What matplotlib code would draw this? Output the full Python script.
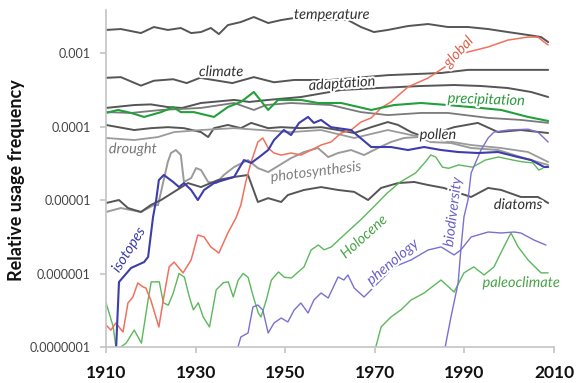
import matplotlib
matplotlib.use("Agg")
import matplotlib.pyplot as plt
import matplotlib.patheffects as pe
from matplotlib.ticker import FixedLocator, NullLocator

# ---------------- data (relative usage frequency) ----------------
temperature_years = [1910, 1913.3, 1917.8, 1920.7, 1923.8, 1926.7, 1929, 1931.2, 1933.4, 1935.2, 1937.2,
                     1940.1, 1943, 1946.2, 1949.1, 1952, 1958, 1964, 1966.9, 1969.8, 1972.9, 1977.4,
                     1981.9, 1986.3, 1990.8, 1995.3, 1999.7, 2004.2, 2007.1, 2008.7]
temperature_vals = [2.06e-3, 2.12e-3, 1.87e-3, 2.26e-3, 2.06e-3, 2.19e-3, 1.87e-3, 1.93e-3, 2.19e-3, 1.81e-3,
                    2.40e-3, 2.64e-3, 3.09e-3, 2.56e-3, 2.81e-3, 3.0e-3, 2.81e-3, 2.81e-3, 2.26e-3, 1.93e-3,
                    2.06e-3, 2.33e-3, 2.48e-3, 2.26e-3, 2.26e-3, 2.12e-3, 1.93e-3, 1.76e-3, 1.65e-3, 1.41e-3]

global_years = [1910, 1911.1, 1912.2, 1913.8, 1914.9, 1916, 1917.1, 1918.3, 1918.9, 1920, 1921.8, 1922.9,
                1924.1, 1925.2, 1927.2, 1929, 1930.5, 1931.9, 1933.4, 1935.2, 1937.2, 1939, 1940.1, 1941.2,
                1942.4, 1943.9, 1945, 1946.2, 1947.5, 1949.1, 1951.3, 1953.5, 1955.8, 1958, 1960.2, 1962.5,
                1964.7, 1966.9, 1969.2, 1971.4, 1973.6, 1977.4, 1981.9, 1986.3, 1989.9, 1995.3, 1999.7,
                2004.2, 2006.4, 2007.8, 2008.7]
global_vals = [1.99e-7, 1.70e-7, 2.12e-7, 1.6e-7, 3.97e-7, 4.79e-7, 7.43e-7, 6.55e-7, 6.35e-7, 4.36e-7, 1.87e-7,
               4.79e-7, 1.23e-6, 1.43e-6, 1.02e-6, 1.53e-6, 3.34e-6, 3.14e-6, 2.3e-6, 1.9e-6, 3.56e-6, 5.69e-6,
               8.55e-6, 1.76e-5, 3.29e-5, 6.15e-5, 6.98e-5, 5.1e-5, 4.36e-5, 4.09e-5, 4.36e-5, 4.09e-5, 4.79e-5,
               5.6e-5, 6.15e-5, 8.16e-5, 8.96e-5, 1.15e-4, 1.31e-4, 1.79e-4, 2.16e-4, 3.45e-4, 4.57e-4, 6.87e-4,
               1.0e-3, 1.21e-3, 1.5e-3, 1.65e-3, 1.65e-3, 1.41e-3, 1.29e-3]

climate_years = [1910, 1913.3, 1917.8, 1920.7, 1925, 1928, 1931, 1938.2, 1943, 1947.5, 1952, 1960, 1972.9,
                 1984.8, 1990.8, 1998, 2008.7]
climate_vals = [4.6e-4, 4.7e-4, 3.6e-4, 4.2e-4, 4.4e-4, 3.9e-4, 4.6e-4, 3.9e-4, 4.7e-4, 4.0e-4, 4.3e-4, 4.3e-4,
                5.0e-4, 5.35e-4, 5.9e-4, 5.9e-4, 5.9e-4]

adaptation_years = [1910, 1916.3, 1920, 1923.8, 1927, 1931.2, 1938.6, 1942, 1946.2, 1953.5, 1962.5, 1970.7,
                    1980.3, 1987.7, 1993.7, 1999.7, 2004.9, 2008.7]
adaptation_vals = [1.79e-4, 1.96e-4, 2.0e-4, 1.84e-4, 1.79e-4, 2.09e-4, 2.30e-4, 2.16e-4, 2.3e-4, 2.52e-4,
                   3.14e-4, 3.34e-4, 3.56e-4, 3.67e-4, 3.56e-4, 3.34e-4, 2.95e-4, 2.52e-4]

other_years = [1910, 1915.6, 1922.3, 1931.2, 1938.6, 1943, 1945.7, 1951.3, 1960.2, 1966.9, 1972.9, 1980.3,
               1986.3, 1995.3, 2002.6, 2008.7]
other_vals = [1.57e-4, 1.53e-4, 1.68e-4, 1.79e-4, 2.09e-4, 1.68e-4, 1.96e-4, 2.09e-4, 1.96e-4, 1.57e-4,
              1.43e-4, 1.53e-4, 1.53e-4, 1.31e-4, 1.23e-4, 1.12e-4]

precipitation_years = [1910, 1912.7, 1915.6, 1918.5, 1922.3, 1925, 1926.7, 1929.6, 1934.1, 1937.2, 1940.1,
                       1943, 1946.2, 1948.4, 1953.5, 1957.3, 1962.5, 1969.2, 1974.3, 1980.3, 1986.3, 1991.5,
                       1998.2, 2004.2, 2008.7]
precipitation_vals = [1.53e-4, 1.68e-4, 1.53e-4, 1.35e-4, 1.57e-4, 1.84e-4, 1.57e-4, 1.57e-4, 1.35e-4, 1.84e-4,
                      2.16e-4, 2.95e-4, 1.68e-4, 2.30e-4, 2.30e-4, 2.09e-4, 2.09e-4, 1.68e-4, 1.96e-4, 2.09e-4,
                      1.96e-4, 1.84e-4, 1.68e-4, 1.35e-4, 1.19e-4]

pollen_years = [1910, 1916.3, 1920, 1923.8, 1927.4, 1931.2, 1932.8, 1934.1, 1937.2, 1940.1, 1942.4, 1946.2,
                1949.1, 1953.5, 1958, 1961.8, 1965.4, 1969.2, 1972.9, 1975.2, 1978.1, 1981, 1987.7, 1993,
                1997.5, 2002.6, 2008.7]
pollen_vals = [1.05e-4, 8.96e-5, 9.5e-5, 9.8e-5, 9.5e-5, 8.4e-5, 7.19e-5, 9.5e-5, 1.05e-4, 9.5e-5, 1.12e-4,
               9.5e-5, 9.8e-5, 9.5e-5, 9.8e-5, 8.96e-5, 8.16e-5, 9.8e-5, 1.15e-4, 1.05e-4, 8.4e-5, 7.19e-5,
               9.8e-5, 1.12e-4, 8.4e-5, 8.96e-5, 8.16e-5]

drought_years = [1910, 1916.3, 1921.6, 1925.2, 1931.2, 1938.6, 1944.6, 1951.3, 1958, 1965.4, 1972.9, 1978.1,
                 1984.8, 1991.5, 1998.2, 2004.2, 2008.7]
drought_vals = [6.98e-5, 6.55e-5, 7.19e-5, 8.4e-5, 8.96e-5, 9.5e-5, 8.96e-5, 8.4e-5, 8.96e-5, 6.98e-5, 8.96e-5,
                7.66e-5, 6.55e-5, 5.6e-5, 5.1e-5, 4.5e-5, 3.29e-5]

photosynthesis_years = [1910, 1913.3, 1917.8, 1920.7, 1921.6, 1923.8, 1924.5, 1925.6, 1926.7, 1927.4, 1929,
                        1930.1, 1931.2, 1932.8, 1934.6, 1936.3, 1938.6, 1941.7, 1943.9, 1946.2, 1951.3, 1954.2,
                        1957.3, 1959.6, 1961.8, 1964.7, 1967.6, 1970.7, 1973.6, 1976.5, 1979.6, 1982.5, 1987,
                        1991.5, 1997.5, 2002.6, 2008.7]
photosynthesis_vals = [6.87e-6, 7.78e-6, 6.87e-6, 8.55e-6, 8.5e-6, 3.29e-5, 4.36e-5, 4.79e-5, 4.09e-5, 1.76e-5,
                       1.99e-5, 2.72e-5, 2.56e-5, 1.76e-5, 1.70e-5, 2.19e-5, 2.81e-5, 3.5e-5, 2.72e-5, 2.4e-5,
                       3.72e-5, 4.5e-5, 5.1e-5, 3.84e-5, 4.36e-5, 4.79e-5, 4.09e-5, 5.1e-5, 6.15e-5, 6.98e-5,
                       7.19e-5, 6.15e-5, 5.97e-5, 5.1e-5, 4.79e-5, 3.84e-5, 2.99e-5]

diatoms_years = [1910, 1912.9, 1914.9, 1917.8, 1920, 1922.3, 1928.3, 1931.2, 1935, 1938.6, 1941.7, 1943.9,
                 1946.2, 1949.1, 1950.6, 1954.2, 1958, 1961.8, 1965.4, 1968.5, 1971.4, 1975.2, 1978.8, 1981.9,
                 1985.4, 1991.5, 1995.3, 1998.2, 2002.6, 2006.4, 2008.7]
diatoms_vals = [9.1e-6, 1.0e-5, 7.78e-6, 6.87e-6, 8.55e-6, 1.0e-5, 1.70e-5, 1.5e-5, 1.87e-5, 2.06e-5, 2.19e-5,
                9.4e-6, 1.06e-5, 9.4e-6, 1.17e-5, 1.37e-5, 1.5e-5, 1.37e-5, 1.29e-5, 1.0e-5, 1.46e-5, 1.70e-5,
                1.76e-5, 1.6e-5, 1.46e-5, 1.1e-5, 1.46e-5, 1.37e-5, 1.1e-5, 1.1e-5, 9.1e-6]

isotopes_years = [1912.2, 1912.9, 1915.6, 1917.1, 1918.5, 1919.4, 1920.5, 1921.2, 1921.8, 1922.9, 1925, 1926.3,
                  1927.4, 1929, 1930.5, 1931.9, 1934.1, 1936.3, 1938.6, 1940.8, 1942.4, 1944.2, 1946.2, 1947.5,
                  1949.7, 1951.3, 1953.1, 1955.1, 1956.4, 1958, 1960.2, 1964.7, 1969.2, 1973.6, 1977.4, 1981,
                  1984.8, 1988.6, 1993, 1997.5, 2002, 2004.9, 2007.8, 2008.7]
isotopes_vals = [8e-8, 7.66e-7, 1.19e-6, 1.31e-6, 1.43e-6, 1.68e-6, 5.87e-6, 1.0e-5, 1.87e-5, 2.19e-5, 1.76e-5,
                 1.5e-5, 1.70e-5, 1.37e-5, 1.0e-5, 1.37e-5, 1.70e-5, 1.87e-5, 2.06e-5, 3.5e-5, 3.19e-5, 3.84e-5,
                 4.79e-5, 6.55e-5, 8.96e-5, 7.66e-5, 1.12e-4, 1.35e-4, 1.12e-4, 1.23e-4, 9.8e-5, 8.96e-5,
                 5.26e-5, 5.26e-5, 4.79e-5, 5.26e-5, 4.79e-5, 4.5e-5, 4.36e-5, 4.5e-5, 3.84e-5, 3.5e-5, 2.81e-5,
                 2.81e-5]

holocene_years = [1910, 1911.6, 1912.3, 1914.5, 1916.3, 1917.9, 1919.4, 1920.1, 1921.9, 1922.8, 1923.9, 1925,
                  1926.3, 1927.5, 1928.6, 1929.5, 1930.6, 1931.7, 1933.1, 1934.6, 1936.2, 1937.3, 1938.4,
                  1939.5, 1940.6, 1941.7, 1942.9, 1944, 1944.6, 1945.8, 1946.9, 1948.5, 1949.8, 1951.4, 1952.9,
                  1954.2, 1955.8, 1957.4, 1958.7, 1960.3, 1961.9, 1966.8, 1969.7, 1972.8, 1975.7, 1979.1,
                  1981.3, 1982.5, 1983.6, 1985.1, 1986.5, 1988.7, 1991.8, 1994.7, 1997.6, 2000.8, 2003, 2005.3,
                  2006.6, 2007.5]
holocene_vals = [4.0e-7, 1.9e-7, 9e-8, 1.13e-7, 1.7e-7, 1.13e-7, 4.4e-7, 7.7e-7, 7.7e-7, 4.0e-7, 3.7e-7, 5.4e-7,
                 1.0e-6, 8.9e-7, 4.8e-7, 3.2e-7, 4.0e-7, 2.56e-7, 1.87e-7, 6.0e-7, 7.5e-7, 7.7e-7, 4.8e-7,
                 8.1e-7, 1.0e-6, 8.9e-7, 4.8e-7, 2.9e-7, 2.56e-7, 4.4e-7, 8.1e-7, 1.05e-6, 8.9e-7, 8.7e-7,
                 1.05e-6, 1.23e-6, 2.1e-6, 2.44e-6, 2.1e-6, 2.3e-6, 2.85e-6, 5.35e-6, 8.0e-6, 1.25e-5, 1.76e-5,
                 2.33e-5, 3.3e-5, 4.1e-5, 3.85e-5, 2.8e-5, 2.7e-5, 3.0e-5, 2.8e-5, 3.5e-5, 3.85e-5, 3.5e-5,
                 3.3e-5, 3.2e-5, 2.56e-5, 2.7e-5]

phenology_years = [1939, 1940.1, 1941.7, 1942.8, 1943.9, 1945, 1946.2, 1947.5, 1949.1, 1950.6, 1952, 1953.5,
                   1955.1, 1956.4, 1958, 1959.6, 1961.8, 1963.1, 1964, 1965.4, 1967.6, 1970.7, 1974.3, 1978.1,
                   1981.9, 1984.8, 1987.7, 1989.2, 1991.5, 1995.3, 1998.2, 2001.1, 2002.6, 2005.5, 2008.2]
phenology_vals = [8e-8, 1.37e-7, 1.55e-7, 3.5e-7, 3.72e-7, 3.19e-7, 1.55e-7, 2.12e-7, 2.48e-7, 2.19e-7, 3.19e-7,
                  3.97e-7, 2.9e-7, 4.36e-7, 5.43e-7, 4.64e-7, 8.96e-7, 8.16e-7, 9.55e-7, 6.35e-7, 4.79e-7,
                  7.43e-7, 1.23e-6, 1.53e-6, 2.09e-6, 2.3e-6, 1.79e-6, 2.09e-6, 3.14e-6, 3.67e-6, 3.56e-6,
                  3.67e-6, 3.56e-6, 2.86e-6, 2.44e-6]

biodiversity_years = [1985.4, 1987, 1988.6, 1989.2, 1989.9, 1990.8, 1991.5, 1993.7, 1995.3, 1996.6, 1999.7,
                      2004.2, 2006.4, 2008.7]
biodiversity_vals = [8e-8, 2.56e-7, 7.43e-7, 2.09e-6, 5.87e-6, 1.0e-5, 2.33e-5, 4.79e-5, 6.98e-5, 8.4e-5,
                     8.96e-5, 9.2e-5, 8.4e-5, 6.15e-5]

paleoclimate_years = [1969.8, 1971.4, 1973.6, 1975.8, 1978.1, 1981, 1984.8, 1987.7, 1989.9, 1992.1, 1994.4,
                      1996.6, 1998.8, 2000.4, 2002, 2004.2, 2007.1, 2008.7]
paleoclimate_vals = [8e-8, 1.87e-7, 2.56e-7, 3.19e-7, 4.36e-7, 5.43e-7, 8.16e-7, 5.6e-7, 1.02e-6, 1.23e-6,
                     9.55e-7, 1.23e-6, 2.3e-6, 3.56e-6, 2.3e-6, 1.53e-6, 1.02e-6, 1.02e-6]

x_ticks = [1910, 1930, 1950, 1970, 1990, 2010]
y_ticks = [1e-7, 1e-6, 1e-5, 1e-4, 1e-3]
y_tick_labels = ["0.0000001", "0.000001", "0.00001", "0.0001", "0.001"]

# ---------------- styling ----------------
DARK = "#555555"
MID = "#7a7a7a"
LIGHT = "#9a9a9a"
RED = "#f2705e"
GREEN = "#22a03a"
LGREEN = "#5cb85c"
BLUE = "#3d3dab"
PURPLE = "#7a70d2"

FONT = ["Lato", "DejaVu Sans"]
plt.rcParams["font.family"] = FONT

fig = plt.figure(figsize=(5.87, 3.83), dpi=100)
ax = fig.add_axes([106 / 587, 1 - 347 / 383, 448 / 587, 337 / 383])

series = [
    (temperature_years, temperature_vals, DARK, 1.4),
    (climate_years, climate_vals, DARK, 1.4),
    (adaptation_years, adaptation_vals, DARK, 1.4),
    (other_years, other_vals, MID, 1.3),
    (pollen_years, pollen_vals, DARK, 1.4),
    (drought_years, drought_vals, LIGHT, 1.3),
    (photosynthesis_years, photosynthesis_vals, LIGHT, 1.4),
    (diatoms_years, diatoms_vals, DARK, 1.4),
    (holocene_years, holocene_vals, LGREEN, 1.0),
    (paleoclimate_years, paleoclimate_vals, LGREEN, 1.0),
    (phenology_years, phenology_vals, PURPLE, 1.0),
    (biodiversity_years, biodiversity_vals, PURPLE, 1.0),
    (global_years, global_vals, RED, 1.1),
    (precipitation_years, precipitation_vals, GREEN, 1.5),
    (isotopes_years, isotopes_vals, BLUE, 1.5),
]
for xs, ys, c, lw in series:
    ax.plot(xs, ys, color=c, lw=lw, solid_joinstyle="round", solid_capstyle="round")

ax.set_yscale("log")
ax.set_xlim(1910, 2010)
ax.set_ylim(1e-7, 3.85e-3)
ax.xaxis.set_major_locator(FixedLocator(x_ticks))
ax.yaxis.set_major_locator(FixedLocator(y_ticks))
ax.yaxis.set_minor_locator(NullLocator())
ax.set_yticklabels(y_tick_labels)
ax.set_xticklabels([str(t) for t in x_ticks])

for s in ["top", "right"]:
    ax.spines[s].set_visible(False)
for s in ["left", "bottom"]:
    ax.spines[s].set_color("#c4c4c4")
    ax.spines[s].set_linewidth(1.2)
ax.tick_params(axis="both", which="major", color="#c4c4c4", length=4, width=1.2, direction="out")
ax.tick_params(axis="y", labelsize=9, labelcolor="#444444", pad=7)
ax.tick_params(axis="x", labelsize=12.5, labelcolor="#111111", pad=9)
for lbl in ax.get_xticklabels():
    lbl.set_fontweight("bold")

fig.text(17 / 587, 1 - 180 / 383, "Relative usage frequency", rotation=90, ha="center", va="center",
         fontsize=13, fontweight="bold", color="#111111")

halo = [pe.withStroke(linewidth=3, foreground="white")]
labels = [
    ("temperature", 1960.4, 3.3e-3, 0, "#333333"),
    ("global", 1988.7, 1.03e-3, 47, "#e0604c"),
    ("climate", 1935.7, 5.5e-4, 0, "#333333"),
    ("adaptation", 1962.7, 3.8e-4, 4, "#333333"),
    ("precipitation", 1994.9, 2.3e-4, -2, "#2a9a3c"),
    ("pollen", 1984.1, 7.66e-5, 0, "#333333"),
    ("drought", 1916.0, 4.9e-5, 0, "#777777"),
    ("photosynthesis", 1956.9, 2.4e-5, 7, "#808080"),
    ("diatoms", 2002.0, 8.55e-6, 0, "#333333"),
    ("isotopes", 1915.1, 2.09e-6, 58, "#3b3ba8"),
    ("Holocene", 1967.6, 3.14e-6, 42, "#48a448"),
    ("phenology", 1974.0, 1.43e-6, 40, "#6b60c8"),
    ("biodiversity", 1987.5, 6.87e-6, 83, "#6b60c8"),
    ("paleoclimate", 2002.7, 7.43e-7, 0, "#48a448"),
]
for txt, x, y, rot, c in labels:
    ax.text(x, y, txt, rotation=rot, rotation_mode="anchor", ha="center", va="center", fontsize=10.5,
            style="italic", color=c, path_effects=halo, zorder=10)

fig.savefig("out.png", dpi=100)
